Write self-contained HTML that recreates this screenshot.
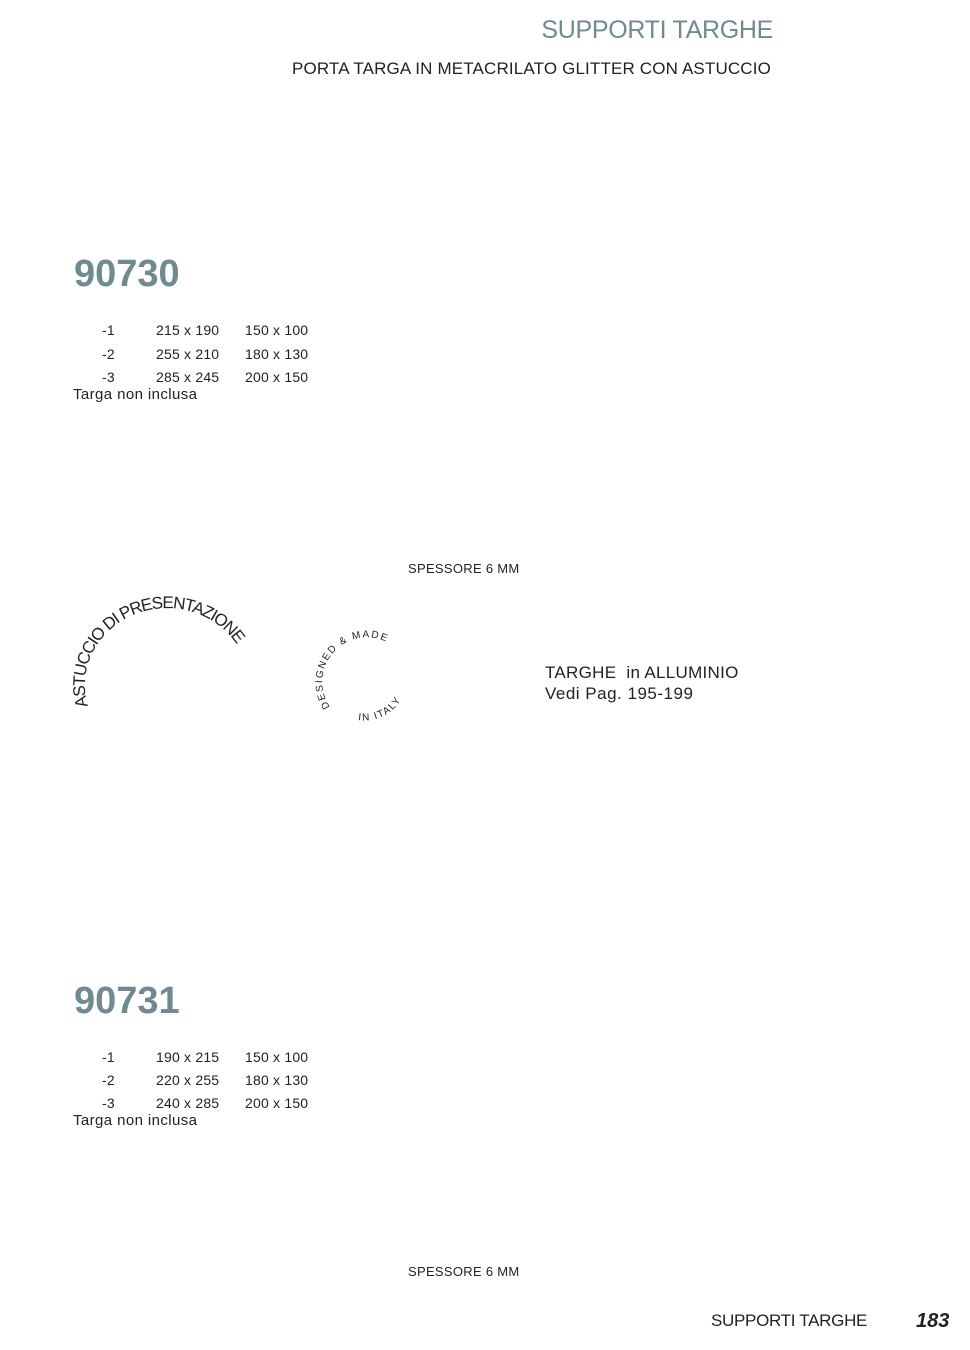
<!DOCTYPE html>
<html><head><meta charset="utf-8"><style>
body{margin:0;background:#fff;}
#p{position:relative;width:970px;height:1350px;overflow:hidden;font-family:"Liberation Sans",sans-serif;color:#222;}
.a{position:absolute;white-space:nowrap;line-height:1;}
.g{color:#6f8a90;}
.t{font-size:14px;letter-spacing:0.2px;}
</style></head><body><div id="p">
<div class="a g" style="right:197px;top:18px;font-size:25px;letter-spacing:-0.3px">SUPPORTI TARGHE</div>
<div class="a" style="right:199px;top:60px;font-size:17px;letter-spacing:0.15px">PORTA TARGA IN METACRILATO GLITTER CON ASTUCCIO</div>

<div class="a g" style="left:74px;top:255px;font-size:38px;font-weight:bold">90730</div>
<div class="a t" style="left:102px;top:323px">-1</div><div class="a t" style="left:156px;top:323px">215 x 190</div><div class="a t" style="left:245px;top:323px">150 x 100</div>
<div class="a t" style="left:102px;top:347px">-2</div><div class="a t" style="left:156px;top:347px">255 x 210</div><div class="a t" style="left:245px;top:347px">180 x 130</div>
<div class="a t" style="left:102px;top:370px">-3</div><div class="a t" style="left:156px;top:370px">285 x 245</div><div class="a t" style="left:245px;top:370px">200 x 150</div>
<div class="a" style="left:73px;top:387px;font-size:15px;letter-spacing:0.4px">Targa non inclusa</div>

<div class="a" style="left:408px;top:562px;font-size:13px;letter-spacing:0.3px">SPESSORE 6 MM</div>

<svg class="a" style="left:0;top:0" width="970" height="1350">
<defs>
<path id="arc1" d="M 88 706 A 78 73 0 1 1 246 664"/>
<path id="arc2" d="M 330 707 A 42 42 0 1 1 404 657"/>
<path id="arc3" d="M 358 720 A 42 42 0 0 0 404 693"/>
</defs>
<text font-family="Liberation Sans, sans-serif" font-size="17" fill="#222" letter-spacing="-1.2"><textPath href="#arc1">ASTUCCIO DI PRESENTAZIONE</textPath></text>
<text font-family="Liberation Sans, sans-serif" font-size="10" fill="#222" letter-spacing="1.6"><textPath href="#arc2">DESIGNED &amp; MADE</textPath></text>
<text font-family="Liberation Sans, sans-serif" font-size="10" fill="#222" letter-spacing="1.5"><textPath href="#arc3">IN ITALY</textPath></text>
</svg>

<div class="a" style="left:545px;top:664px;font-size:17px;letter-spacing:0.3px">TARGHE&nbsp; in ALLUMINIO</div>
<div class="a" style="left:545px;top:685px;font-size:17px;letter-spacing:0.5px">Vedi Pag. 195-199</div>

<div class="a g" style="left:74px;top:982px;font-size:38px;font-weight:bold">90731</div>
<div class="a t" style="left:102px;top:1050px">-1</div><div class="a t" style="left:156px;top:1050px">190 x 215</div><div class="a t" style="left:245px;top:1050px">150 x 100</div>
<div class="a t" style="left:102px;top:1073px">-2</div><div class="a t" style="left:156px;top:1073px">220 x 255</div><div class="a t" style="left:245px;top:1073px">180 x 130</div>
<div class="a t" style="left:102px;top:1096px">-3</div><div class="a t" style="left:156px;top:1096px">240 x 285</div><div class="a t" style="left:245px;top:1096px">200 x 150</div>
<div class="a" style="left:73px;top:1113px;font-size:15px;letter-spacing:0.4px">Targa non inclusa</div>

<div class="a" style="left:408px;top:1265px;font-size:13px;letter-spacing:0.3px">SPESSORE 6 MM</div>

<div class="a" style="left:711px;top:1312px;font-size:17px;letter-spacing:-0.3px">SUPPORTI TARGHE</div>
<div class="a" style="left:916px;top:1311px;font-size:20px;font-weight:bold;font-style:italic">183</div>
</div></body></html>
